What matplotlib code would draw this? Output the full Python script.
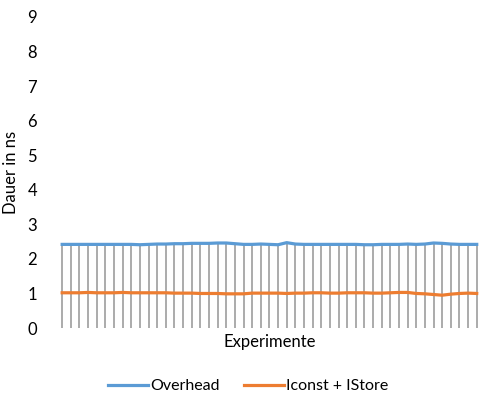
import numpy as np
import matplotlib.pyplot as plt
from matplotlib.lines import Line2D

plt.rcParams['font.family'] = ['Lato', 'DejaVu Sans']

# Messwerte je Experiment (ns)
overhead = [2.42, 2.42, 2.42, 2.42, 2.42, 2.42, 2.42, 2.42, 2.42, 2.41, 2.42, 2.43,
            2.43, 2.44, 2.44, 2.45, 2.45, 2.45, 2.46, 2.46, 2.44, 2.42, 2.42, 2.43,
            2.42, 2.41, 2.47, 2.43, 2.42, 2.42, 2.42, 2.42, 2.42, 2.42, 2.42, 2.41,
            2.41, 2.42, 2.42, 2.42, 2.43, 2.42, 2.43, 2.46, 2.45, 2.43, 2.42, 2.42,
            2.42]
iconst_istore = [1.02, 1.02, 1.02, 1.03, 1.02, 1.02, 1.02, 1.03, 1.02, 1.02, 1.02, 1.02,
                 1.02, 1.01, 1.01, 1.01, 1.00, 1.00, 1.00, 0.99, 0.99, 0.99, 1.01, 1.01,
                 1.01, 1.01, 1.00, 1.01, 1.01, 1.02, 1.02, 1.01, 1.01, 1.02, 1.02, 1.02,
                 1.01, 1.01, 1.02, 1.03, 1.03, 1.00, 0.99, 0.97, 0.95, 0.98, 1.00, 1.01,
                 1.00]
labels = ['Overhead', 'Iconst + IStore']
colors = ['#5B9BD5', '#ED7D31']

x = np.arange(len(overhead))

fig = plt.figure(figsize=(4.82, 4.03), dpi=100)
ax = fig.add_axes([0.12, 0.186, 0.878, 0.772])

# Fallinien von 0 bis zum oberen Wert
ax.vlines(x, 0, overhead, color='#A5A5A5', linewidth=1.3, zorder=1)
ax.plot(x, overhead, color=colors[0], linewidth=2.3, zorder=3)
ax.plot(x, iconst_istore, color=colors[1], linewidth=2.3, zorder=3)

ax.set_xlim(-0.5, len(x) - 0.5)
ax.set_ylim(0, 9)
ax.set_yticks(range(0, 10))
ax.set_xticks([])
for s in ax.spines.values():
    s.set_visible(False)
ax.tick_params(axis='y', length=0, pad=15, labelsize=12, labelcolor='#000000')

ax.set_xlabel('Experimente', fontsize=12, labelpad=4)
ax.set_ylabel('Dauer in ns', fontsize=12, labelpad=6)

handles = [Line2D([], [], color=c, linewidth=2.3) for c in colors]
fig.legend(handles, labels, loc='center', bbox_to_anchor=(0.515, 0.042), ncol=2,
           frameon=False, fontsize=11.5, handlelength=2.5, handletextpad=0.15,
           columnspacing=1.5)

fig.savefig('out.png', dpi=100)
